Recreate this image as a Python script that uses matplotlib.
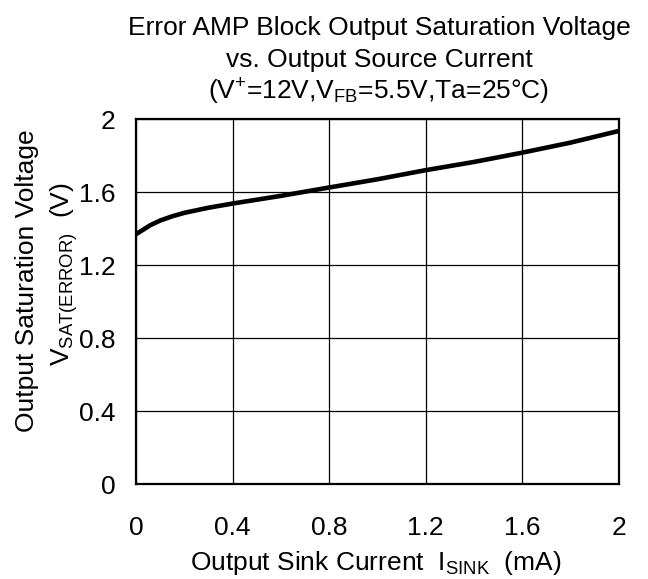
import matplotlib
matplotlib.use("Agg")
import matplotlib.pyplot as plt

plt.rcParams["font.family"] = ["Liberation Sans", "DejaVu Sans"]
plt.rcParams["mathtext.fontset"] = "custom"
plt.rcParams["mathtext.rm"] = "Liberation Sans"
plt.rcParams["mathtext.it"] = "Liberation Sans"
plt.rcParams["mathtext.default"] = "regular"

# curve
sink_current = [0, 0.03, 0.06, 0.1, 0.15, 0.2, 0.3, 0.4, 0.6, 0.8, 1.0, 1.2,
                1.4, 1.6, 1.8, 2.0]
sat_voltage = [1.37, 1.395, 1.42, 1.445, 1.468, 1.487, 1.515, 1.538, 1.58,
               1.626, 1.671, 1.721, 1.766, 1.817, 1.872, 1.936]

x_ticks = [0, 0.4, 0.8, 1.2, 1.6, 2]
x_tick_labels = ["0", "0.4", "0.8", "1.2", "1.6", "2"]
y_ticks = [0, 0.4, 0.8, 1.2, 1.6, 2]
y_tick_labels = ["0", "0.4", "0.8", "1.2", "1.6", "2"]

FS = 19

fig = plt.figure(figsize=(6.48, 5.79), dpi=100)
ax = fig.add_axes([0.21, 0.164, 0.745, 0.63])

ax.plot(sink_current, sat_voltage, color="black", lw=3.3, solid_capstyle="round")

ax.set_xlim(0, 2)
ax.set_ylim(0, 2)
ax.set_xticks(x_ticks)
ax.set_xticklabels(x_tick_labels)
ax.set_yticks(y_ticks)
ax.set_yticklabels(y_tick_labels)
ax.tick_params(length=0, labelsize=FS)
ax.tick_params(axis="x", pad=23)
ax.tick_params(axis="y", pad=15)
ax.grid(True, color="black", lw=0.9)
for s in ax.spines.values():
    s.set_linewidth(1.6)

# x label
fig.text(0.5795, 0.0155, r"Output Sink Current  I$_{SINK}$  (mA)",
         fontsize=FS, ha="center", va="baseline")

# two-line y label
fig.text(0.0517, 0.516, "Output Saturation Voltage", rotation=90,
         rotation_mode="anchor", fontsize=FS, ha="center", va="baseline")
fig.text(0.108, 0.527, r"V$_{SAT(ERROR)}$  (V)", rotation=90,
         rotation_mode="anchor", fontsize=FS, ha="center", va="baseline")

# three-line title
fig.text(0.585, 0.9396, "Error AMP Block Output Saturation Voltage",
         fontsize=FS, ha="center", va="baseline")
fig.text(0.585, 0.8848, "vs. Output Source Current",
         fontsize=FS, ha="center", va="baseline")
fig.text(0.585, 0.8273, r"(V$^{+}$=12V,V$_{FB}$=5.5V,Ta=25°C)",
         fontsize=FS, ha="center", va="baseline")

fig.savefig("out.png", dpi=100)
